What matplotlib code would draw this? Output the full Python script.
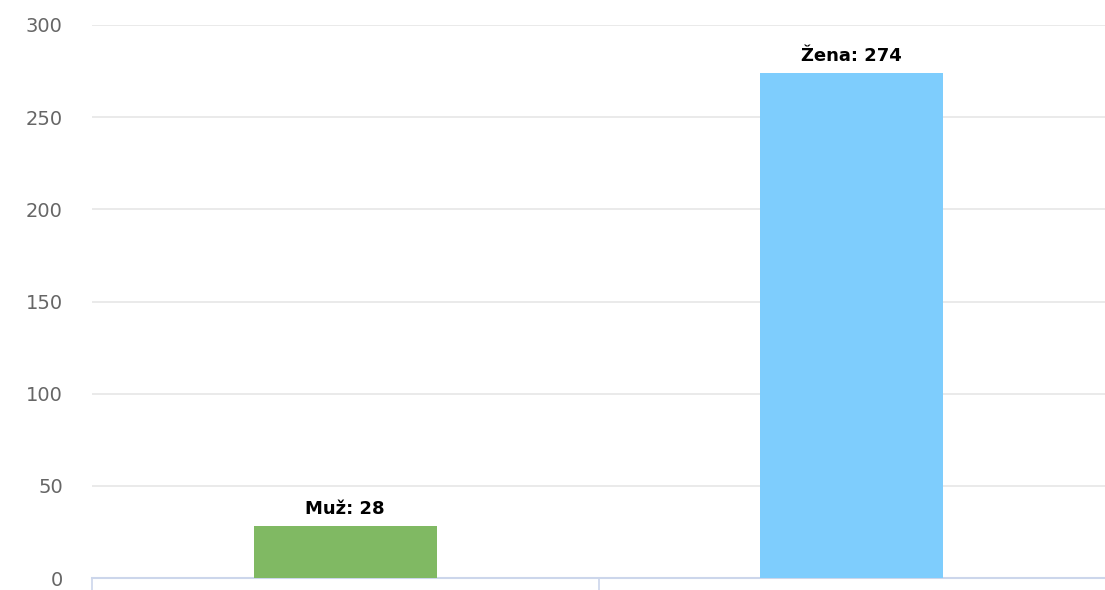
import matplotlib
matplotlib.use("Agg")
import matplotlib.pyplot as plt

categories = ["Muž", "Žena"]
values = [28, 274]
colors = ["#80b963", "#7ecdfd"]
yticks = [0, 50, 100, 150, 200, 250, 300]

fig = plt.figure(figsize=(11.05, 5.9), dpi=100)
ax = fig.add_axes([92/1105, 12/590, 1 - 92/1105, (578-25)/590])

x = list(range(len(categories)))
ax.bar(x, values, width=0.362, color=colors, zorder=3)
for xi, cat, v in zip(x, categories, values):
    ax.annotate(f"{cat}: {v}", (xi, v), xytext=(0, 6), textcoords="offset points",
                ha="center", va="bottom", fontsize=13, fontweight="bold", color="black")

ax.set_xlim(-0.5, len(categories) - 0.5)
ax.set_ylim(0, 300)
ax.set_yticks(yticks)
ax.set_yticklabels([str(t) for t in yticks])
ax.yaxis.grid(True, color="#e6e6e6", linewidth=1.2, zorder=0)
ax.set_axisbelow(True)

ax.set_xticks([-0.5, 0.5])
ax.set_xticklabels(["", ""])
ax.tick_params(axis="x", length=10, color="#ccd6eb", width=1.2, direction="out")
ax.tick_params(axis="y", length=0, pad=21, labelsize=14, labelcolor="#666666")

for s in ["top", "right", "left"]:
    ax.spines[s].set_visible(False)
ax.spines["bottom"].set_color("#ccd6eb")
ax.spines["bottom"].set_linewidth(1.5)

fig.savefig("out.png", dpi=100, facecolor="white")
